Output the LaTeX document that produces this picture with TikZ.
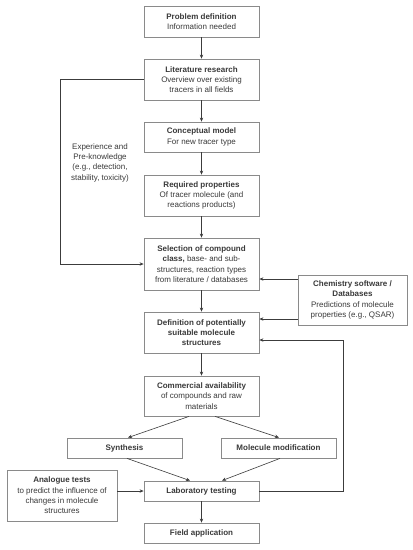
\documentclass[tikz,border=0pt]{standalone}
\usepackage{fontspec}
\setmainfont{Liberation Sans}
\usetikzlibrary{arrows.meta,shadows}
\definecolor{boxline}{HTML}{8A8A8A}
\definecolor{txt}{HTML}{3A3A3A}
\definecolor{conn}{HTML}{3C3C3C}
\begin{document}
\begin{tikzpicture}[x=1pt,y=-1pt,
  box/.style={draw=boxline,line width=0.8pt,fill=white,
    drop shadow={shadow xshift=0.8pt,shadow yshift=-0.8pt,opacity=0.25},
    inner sep=0pt,align=center,text=txt,
    font=\fontsize{8pt}{10.3pt}\selectfont},
  arr/.style={draw=conn,line width=0.6pt,-{Stealth[length=4pt,width=3.4pt]}},
  ln/.style={draw=conn,line width=0.6pt}]
\useasboundingbox (0,0) rectangle (413,550);
\fill[white] (0,0) rectangle (413,550);
\node[box,minimum width=115pt,minimum height=31pt] (prob) at (201.5,21.5)
  {\textbf{Problem definition}\\Information needed};
\node[box,minimum width=115pt,minimum height=41pt] (lit) at (201.5,79.5)
  {\textbf{Literature research}\\Overview over existing\\tracers in all fields};
\node[box,minimum width=115pt,minimum height=30pt] (conc) at (201.5,137)
  {\textbf{Conceptual model}\\For new tracer type};
\node[box,minimum width=115pt,minimum height=41pt] (req) at (201.5,195.5)
  {\textbf{Required properties}\\Of tracer molecule (and\\reactions products)};
\node[box,minimum width=115pt,minimum height=52pt] (sel) at (201.5,264)
  {\textbf{Selection of compound}\\\textbf{class,} base- and sub-\\structures, reaction types\\from literature / databases};
\node[box,minimum width=115pt,minimum height=41pt] (def) at (201.5,332.5)
  {\textbf{Definition of potentially}\\\textbf{suitable molecule}\\\textbf{structures}};
\node[box,minimum width=115pt,minimum height=40pt] (comm) at (201.5,396)
  {\textbf{Commercial availability}\\of compounds and raw\\materials};
\node[box,minimum width=115pt,minimum height=20pt] (syn) at (124.5,448)
  {\textbf{Synthesis}};
\node[box,minimum width=115pt,minimum height=20pt] (mol) at (278.5,448)
  {\textbf{Molecule modification}};
\node[box,minimum width=110pt,minimum height=51pt] (ana) at (62,495.5)
  {\textbf{Analogue tests}\\to predict the influence of\\changes in molecule\\structures};
\node[box,minimum width=115pt,minimum height=20pt] (lab) at (201.5,491)
  {\textbf{Laboratory testing}};
\node[box,minimum width=115pt,minimum height=20pt] (field) at (201.5,533)
  {\textbf{Field application}};
\node[box,minimum width=109pt,minimum height=50pt] (chem) at (352.5,300)
  {\textbf{Chemistry software /}\\\textbf{Databases}\\Predictions of molecule\\properties (e.g., QSAR)};
\node[align=center,text=txt,inner sep=0pt,font=\fontsize{8pt}{10.3pt}\selectfont] (exp) at (100,162.5)
  {Experience and\\Pre-knowledge\\(e.g., detection,\\stability, toxicity)};
% main flow
\draw[arr] (prob) -- (lit);
\draw[arr] (lit) -- (conc);
\draw[arr] (conc) -- (req);
\draw[arr] (req) -- (sel);
\draw[arr] (sel) -- (def);
\draw[arr] (def) -- (comm);
\draw[arr] ([xshift=-12.5pt]comm.south) -- ([xshift=3.5pt]syn.north);
\draw[arr] ([xshift=13.5pt]comm.south) -- ([xshift=0.5pt]mol.north);
\draw[arr] ([xshift=2.5pt]syn.south) -- ([xshift=-11.5pt]lab.north);
\draw[arr] ([xshift=1.5pt]mol.south) -- ([xshift=20.5pt]lab.north);
\draw[arr] (ana.east |- lab.west) -- (lab.west);
\draw[arr] (lab) -- (field);
% left feedback
\coordinate (fbL) at (60,264);
\draw[arr] (lit.west) -| (fbL) -- (sel.west);
% chemistry software arrows
\coordinate (c1) at (298,279);
\coordinate (c2) at (298,319);
\draw[arr] (c1) -- (c1 -| sel.east);
\draw[arr] (c2) -- (c2 -| def.east);
% right feedback
\coordinate (fbR) at (343,340);
\draw[arr] (lab.east) -| (fbR) -- (fbR -| def.east);
\end{tikzpicture}
\end{document}
